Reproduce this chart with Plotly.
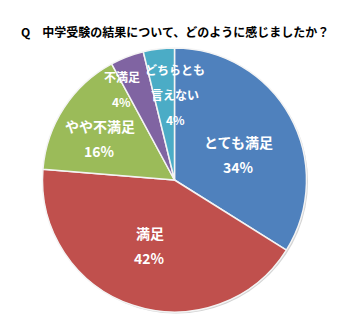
import math
import plotly.graph_objects as go

# ---- data ----
categories = ["とても満足", "満足", "やや不満足", "不満足", "どちらとも\n言えない"]
values = [33.9, 42.4, 15.8, 4.1, 3.8]
colors = ["#4F81BD", "#C0504D", "#9BBB59", "#8064A2", "#4BACC6"]
title_text = "Q　中学受験の結果について、どのように感じましたか？"

# ---- layout geometry (pixels) ----
W, H = 350, 323
CX, CY, R = 174.5, 180.0, 132.0
dom_x = [(CX - R) / W, (CX + R) / W]
dom_y = [(H - CY - R) / H, (H - CY + R) / H]

# label placement: (radius fraction, angle offset from slice middle in degrees)
label_place = [(0.52, 7.0), (0.53, 2.3), (0.645, -4.3), (0.80, -9.0), (0.65, 7.5)]
label_size = [14, 14, 14, 12, 12]
line_gap = 25

fig = go.Figure()

# soft shadow under the pie
sh = 1.5
fig.add_trace(go.Pie(
    values=[sum(values)], labels=["shadow"],
    marker=dict(colors=["#d4d4d4"], line=dict(width=0)),
    domain=dict(x=[dom_x[0] + sh / W, dom_x[1] + sh / W],
                y=[dom_y[0] - sh / H, dom_y[1] - sh / H]),
    textinfo="none", hoverinfo="skip", showlegend=False, sort=False,
))

fig.add_trace(go.Pie(
    labels=[c.replace("\n", "") for c in categories], values=values,
    marker=dict(colors=colors, line=dict(color="#f4f4f4", width=1.5)),
    domain=dict(x=dom_x, y=dom_y),
    direction="clockwise", rotation=0, sort=False,
    textinfo="none", showlegend=False,
))

total = sum(values)
cum = 0.0
annotations = []
for i, (cat, v) in enumerate(zip(categories, values)):
    mid = (cum + v / 2) / total * 360.0
    cum += v
    rf, off = label_place[i]
    th = math.radians(mid + off)
    px = CX + rf * R * math.sin(th)
    py = CY - rf * R * math.cos(th)
    lines = cat.split("\n") + [f"{round(v / total * 100)}%"]
    n = len(lines)
    for j, t in enumerate(lines):
        shift = ((n - 1) / 2 - j) * line_gap
        annotations.append(dict(
            x=px / W, y=1 - py / H, xref="paper", yref="paper",
            text=f"<b>{t}</b>", showarrow=False, xanchor="center", yanchor="middle",
            yshift=shift,
            font=dict(family="Noto Sans CJK JP", size=label_size[i], color="white"),
        ))

annotations.append(dict(
    x=174.5 / W, y=1 - 31 / H, xref="paper", yref="paper",
    text=f"<b>{title_text}</b>", showarrow=False, xanchor="center", yanchor="middle",
    font=dict(family="Noto Sans CJK JP", size=12, color="black"),
))

fig.update_layout(
    width=W, height=H, margin=dict(l=0, r=0, t=0, b=0),
    paper_bgcolor="white", plot_bgcolor="white",
    annotations=annotations, showlegend=False,
)

fig.write_html("out.html")
